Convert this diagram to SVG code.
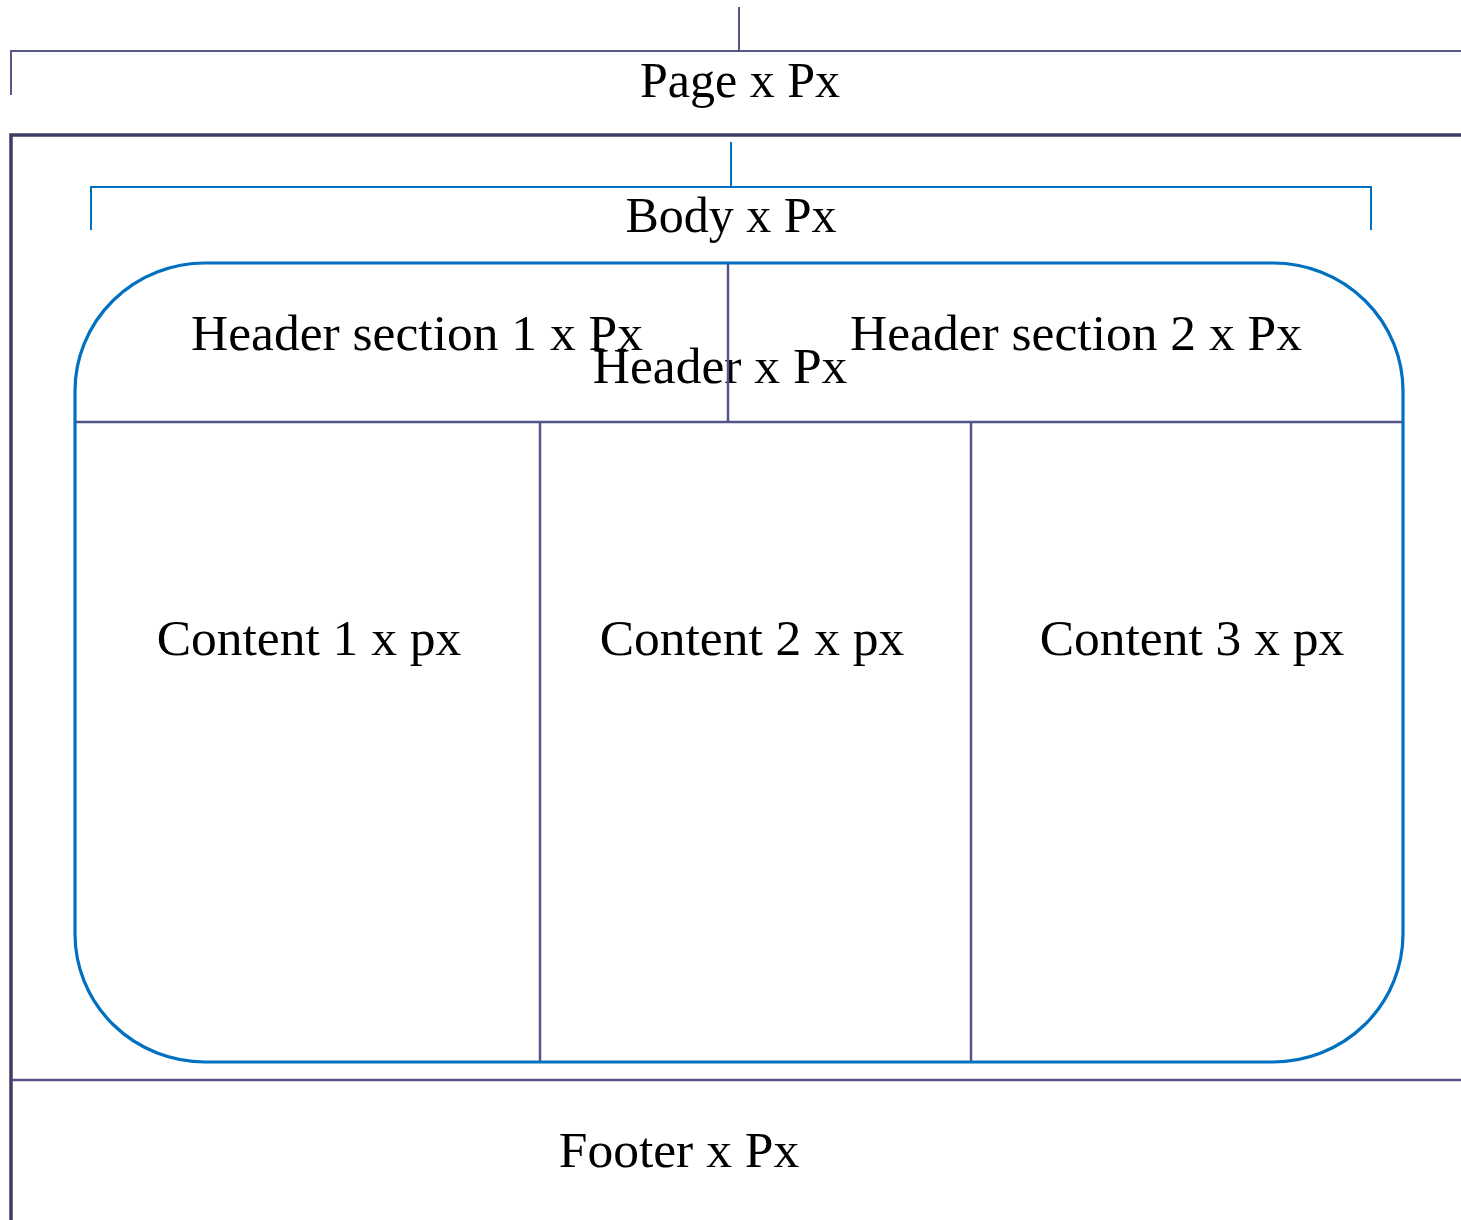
<svg xmlns="http://www.w3.org/2000/svg" width="1461" height="1220" viewBox="0 0 1461 1220">
  <style>
    .lbl { font-family: "Liberation Serif", "Times New Roman", serif; font-size: 50px; fill: #000; text-anchor: middle; }
    .wide { font-size: 51.5px; }
    .slate { stroke: #555889; stroke-width: 2; fill: none; }
    .frame { stroke: #3d3c64; stroke-width: 3.5; fill: none; }
    .blue { stroke: #0070c0; stroke-width: 2; fill: none; }
    .body { stroke: #0070c0; stroke-width: 3.2; fill: none; }
    .div { stroke: #545689; stroke-width: 2.5; fill: none; }
  </style>
  <rect width="1461" height="1220" fill="#fff"/>

  <g id="page">
    <!-- page bracket -->
    <path class="slate" d="M739 7 V51 M11 95 V51 H1461"/>
    <text class="lbl" x="740" y="97">Page x Px</text>
    <!-- page frame -->
    <path class="frame" d="M11 1220 V135 H1461"/>
  </g>

  <g id="body">
    <path class="blue" d="M731 142 V187 M91 230 V187 H1371 V230"/>
    <text class="lbl" x="731" y="232">Body x Px</text>
    <rect class="body" x="75" y="263" width="1328" height="799" rx="130" ry="128"/>
  </g>

  <g id="header">
    <text class="lbl wide" x="720" y="383">Header x Px</text>
  </g>

  <g id="header-section-1">
    <text class="lbl wide" x="417" y="350">Header section 1 x Px</text>
  </g>

  <g id="header-section-2">
    <text class="lbl wide" x="1076" y="350">Header section 2 x Px</text>
  </g>

  <g id="content-1">
    <text class="lbl wide" x="309" y="655">Content 1 x px</text>
  </g>

  <g id="content-2">
    <text class="lbl wide" x="752" y="655">Content 2 x px</text>
  </g>

  <g id="content-3">
    <text class="lbl wide" x="1192" y="655">Content 3 x px</text>
  </g>

  <g id="footer">
    <text class="lbl wide" x="679" y="1167">Footer x Px</text>
  </g>

  <g id="connectors">
    <path class="div" d="M76 422 H1402"/>
    <path class="div" d="M728 264 V422"/>
    <path class="div" d="M540 422 V1061"/>
    <path class="div" d="M971 422 V1061"/>
    <path class="div" d="M12 1080 H1461"/>
  </g>
</svg>
